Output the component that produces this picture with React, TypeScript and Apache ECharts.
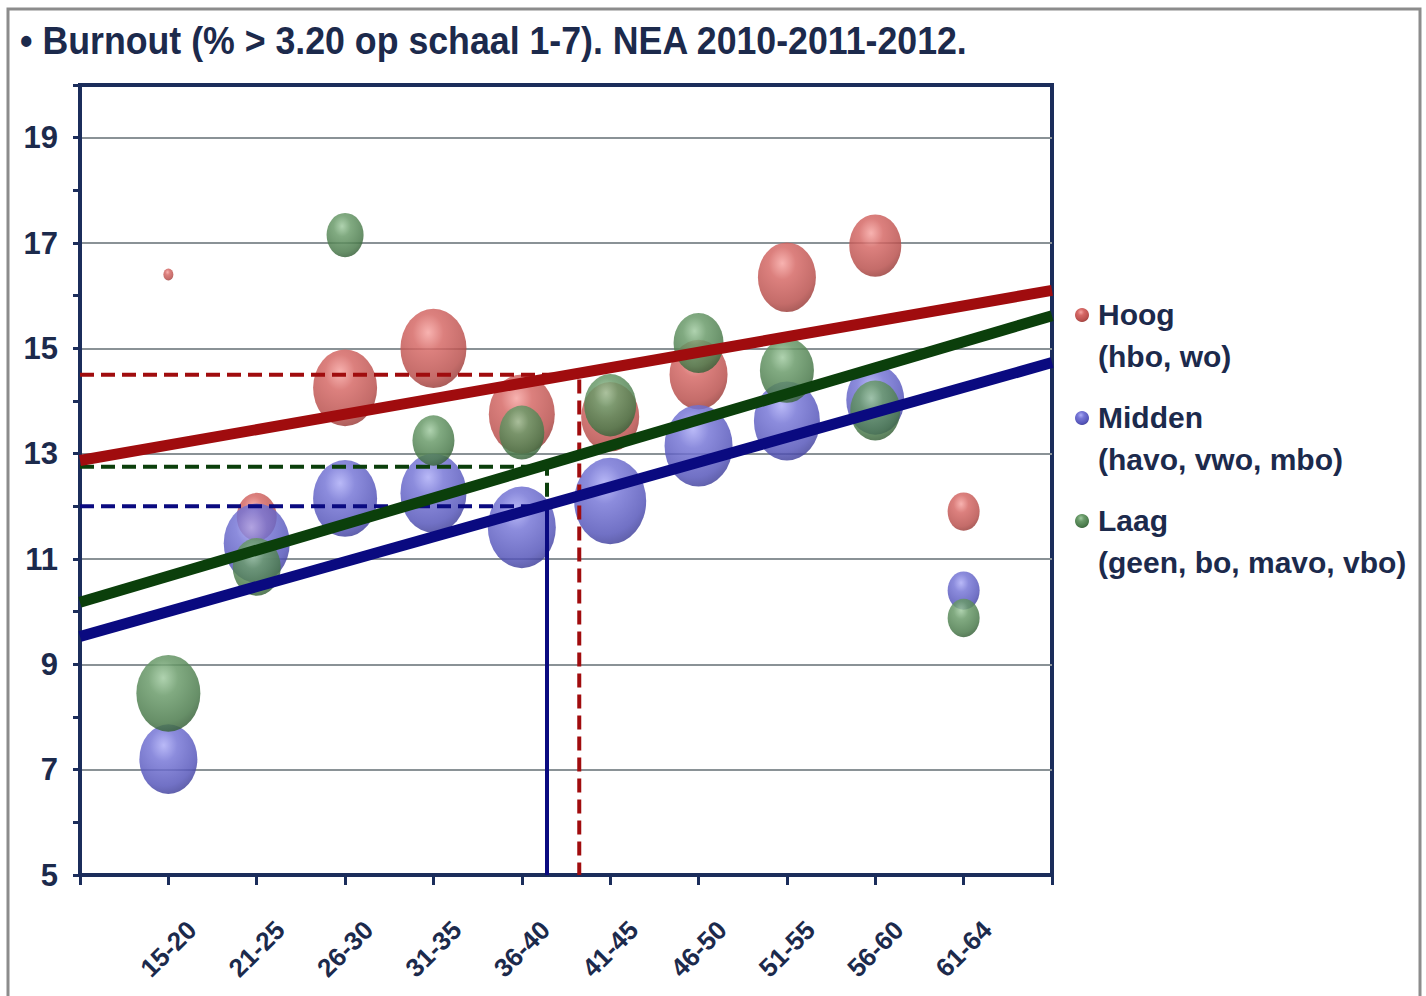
import { useEffect, useRef } from 'react';
import * as echarts from 'echarts';

// ---- data ----
const categories = ['15-20', '21-25', '26-30', '31-35', '36-40', '41-45', '46-50', '51-55', '56-60', '61-64'];

const hoogValues = [16.4, 11.8, 14.25, 15.0, 13.75, 13.7, 14.5, 16.35, 16.95, 11.9];
const middenValues = [7.2, 11.3, 12.15, 12.25, 11.6, 12.1, 13.15, 13.62, 14.02, 10.4];
const laagValues = [8.45, 10.85, 17.15, 13.25, 13.4, 13.92, 15.1, 14.58, 13.82, 9.88];

const hoogSizes = [10, 40, 64, 66, 66, 58, 58, 58, 52, 32];
const middenSizes = [58, 66, 64, 66, 68, 72, 68, 66, 58, 32];
const laagSizes = [64, 48, 37, 42, 45, 52, 50, 54, 50, 32];

const trendHoog = [[0, 12.87], [11, 16.1]];
const trendMidden = [[0, 9.53], [11, 14.73]];
const trendLaag = [[0, 10.18], [11, 15.62]];

const refHoog = [[0, 14.5], [5.65, 14.5], [5.65, 5]];
const refLaag = [[0, 12.75], [5.285, 12.75], [5.285, 12.0]];
const refMidden = [[0, 12.0], [5.285, 12.0]];
const refMiddenDrop = [[5.285, 12.0], [5.285, 5]];

const legendNames = ['Hoog', 'Midden', 'Laag'];
const legendSubs = ['(hbo, wo)', '(havo, vwo, mbo)', '(geen, bo, mavo, vbo)'];

const titleText = '• Burnout (% > 3.20 op schaal 1-7). NEA 2010-2011-2012.';

// ---- styles ----
const FONT = "'Liberation Sans', Arial, sans-serif";
const NAVY = '#1b2d5b';
const TEXT = '#1c2a4c';
const GRID = '#8a9296';

const RED_LINE = '#a00c0e';
const GREEN_LINE = '#0b3f0b';
const BLUE_LINE = '#0a0a80';

const shades = {
  red: ['#f6a4a1', '#d56865', '#b9504d', '#8a3431'],
  blue: ['#acacf6', '#7676d6', '#5656ba', '#38388c'],
  green: ['#a0caa0', '#699a69', '#4a7a4b', '#2e5430'],
};

const bubble = (c: string[]) => ({
  type: 'radial',
  x: 0.42,
  y: 0.3,
  r: 0.78,
  colorStops: [
    { offset: 0, color: c[0] },
    { offset: 0.3, color: c[1] },
    { offset: 0.75, color: c[2] },
    { offset: 1, color: c[3] },
  ],
});

const ELLIPSE = 'path://M0,-1 A1,1 0 1,1 0,1 A1,1 0 1,1 0,-1 Z';

function scatterSeries(name: string, values: number[], sizes: number[], c: string[]) {
  return {
    name,
    type: 'scatter',
    z: 3,
    symbol: ELLIPSE,
    symbolSize: (val: number[]) => [val[2], val[2] * 1.2],
    itemStyle: { color: bubble(c), opacity: 0.84 },
    data: values.map((v, i) => [i + 1, v, sizes[i]]),
  };
}

function lineSeries(data: number[][], color: string, width: number, dashed: boolean) {
  return {
    type: 'line',
    z: 5,
    symbol: 'none',
    silent: true,
    lineStyle: { color, width, type: dashed ? [14, 7] : 'solid', cap: 'butt' },
    data,
  };
}

export default function App() {
  const ref = useRef<HTMLDivElement>(null);

  useEffect(() => {
    document.body.style.margin = '0';
    const chart = echarts.init(ref.current!, null, { renderer: 'svg' });

    const dotColors = [shades.red, shades.blue, shades.green];
    const legendGraphics: any[] = [];
    legendNames.forEach((n, i) => {
      const top = 314 + i * 103;
      legendGraphics.push({
        type: 'circle',
        shape: { cx: 1082, cy: top + 1, r: 7 },
        style: { fill: bubble(dotColors[i]) as any },
      });
      legendGraphics.push({
        type: 'text',
        x: 1098,
        y: top,
        style: { text: n, fill: TEXT, font: `bold 30px ${FONT}`, verticalAlign: 'middle', align: 'left' },
      });
      legendGraphics.push({
        type: 'text',
        x: 1098,
        y: top + 42,
        style: { text: legendSubs[i], fill: TEXT, font: `bold 30px ${FONT}`, verticalAlign: 'middle', align: 'left' },
      });
    });

    const option: any = {
      animation: false,
      backgroundColor: '#ffffff',
      grid: {
        left: 80,
        top: 85,
        right: 374,
        bottom: 121,
        show: true,
        borderColor: NAVY,
        borderWidth: 4,
        backgroundColor: 'transparent',
      },
      xAxis: {
        type: 'value',
        min: 0,
        max: 11,
        interval: 1,
        splitLine: { show: false },
        axisLine: { show: true, onZero: false, lineStyle: { color: NAVY, width: 4 } },
        axisTick: { show: true, inside: false, length: 10, lineStyle: { color: NAVY, width: 3 } },
        axisLabel: {
          formatter: (v: number) => (v >= 1 && v <= categories.length ? categories[v - 1] : ''),
          rotate: 45,
          align: 'center',
          verticalAlign: 'middle',
          margin: 74,
          color: TEXT,
          fontFamily: FONT,
          fontWeight: 'bold',
          fontSize: 26,
        },
      },
      yAxis: {
        type: 'value',
        min: 5,
        max: 20,
        interval: 1,
        axisLine: { show: true, onZero: false, lineStyle: { color: NAVY, width: 4 } },
        axisTick: { show: true, inside: false, length: 7, lineStyle: { color: NAVY, width: 3 } },
        splitLine: { show: true, lineStyle: { color: [GRID, 'rgba(0,0,0,0)'], width: 2 } },
        axisLabel: {
          formatter: (v: number) => ((v - 5) % 2 === 0 && v < 20 ? String(v) : ''),
          margin: 22,
          color: TEXT,
          fontFamily: FONT,
          fontWeight: 'bold',
          fontSize: 31,
        },
      },
      series: [
        scatterSeries('Hoog', hoogValues, hoogSizes, shades.red),
        scatterSeries('Midden', middenValues, middenSizes, shades.blue),
        scatterSeries('Laag', laagValues, laagSizes, shades.green),
        lineSeries(refHoog, RED_LINE, 4, true),
        lineSeries(refLaag, GREEN_LINE, 4, true),
        lineSeries(refMidden, BLUE_LINE, 4, true),
        lineSeries(refMiddenDrop, BLUE_LINE, 4, false),
        lineSeries(trendHoog, RED_LINE, 11, false),
        lineSeries(trendLaag, GREEN_LINE, 11, false),
        lineSeries(trendMidden, BLUE_LINE, 11, false),
      ],
      graphic: [
        {
          type: 'rect',
          shape: { x: 8, y: 9, width: 1412, height: 1000 },
          style: { fill: 'none', stroke: '#8c8c8c', lineWidth: 3 },
          silent: true,
        },
        {
          type: 'text',
          x: 20,
          y: 41,
          scaleX: 0.94,
          style: {
            text: titleText,
            fill: TEXT,
            font: `bold 38px ${FONT}`,
            verticalAlign: 'middle',
            align: 'left',
          },
        },
        ...legendGraphics,
      ],
    };

    chart.setOption(option);
    return () => chart.dispose();
  }, []);

  return <div ref={ref} style={{ width: 1426, height: 996 }} />;
}
